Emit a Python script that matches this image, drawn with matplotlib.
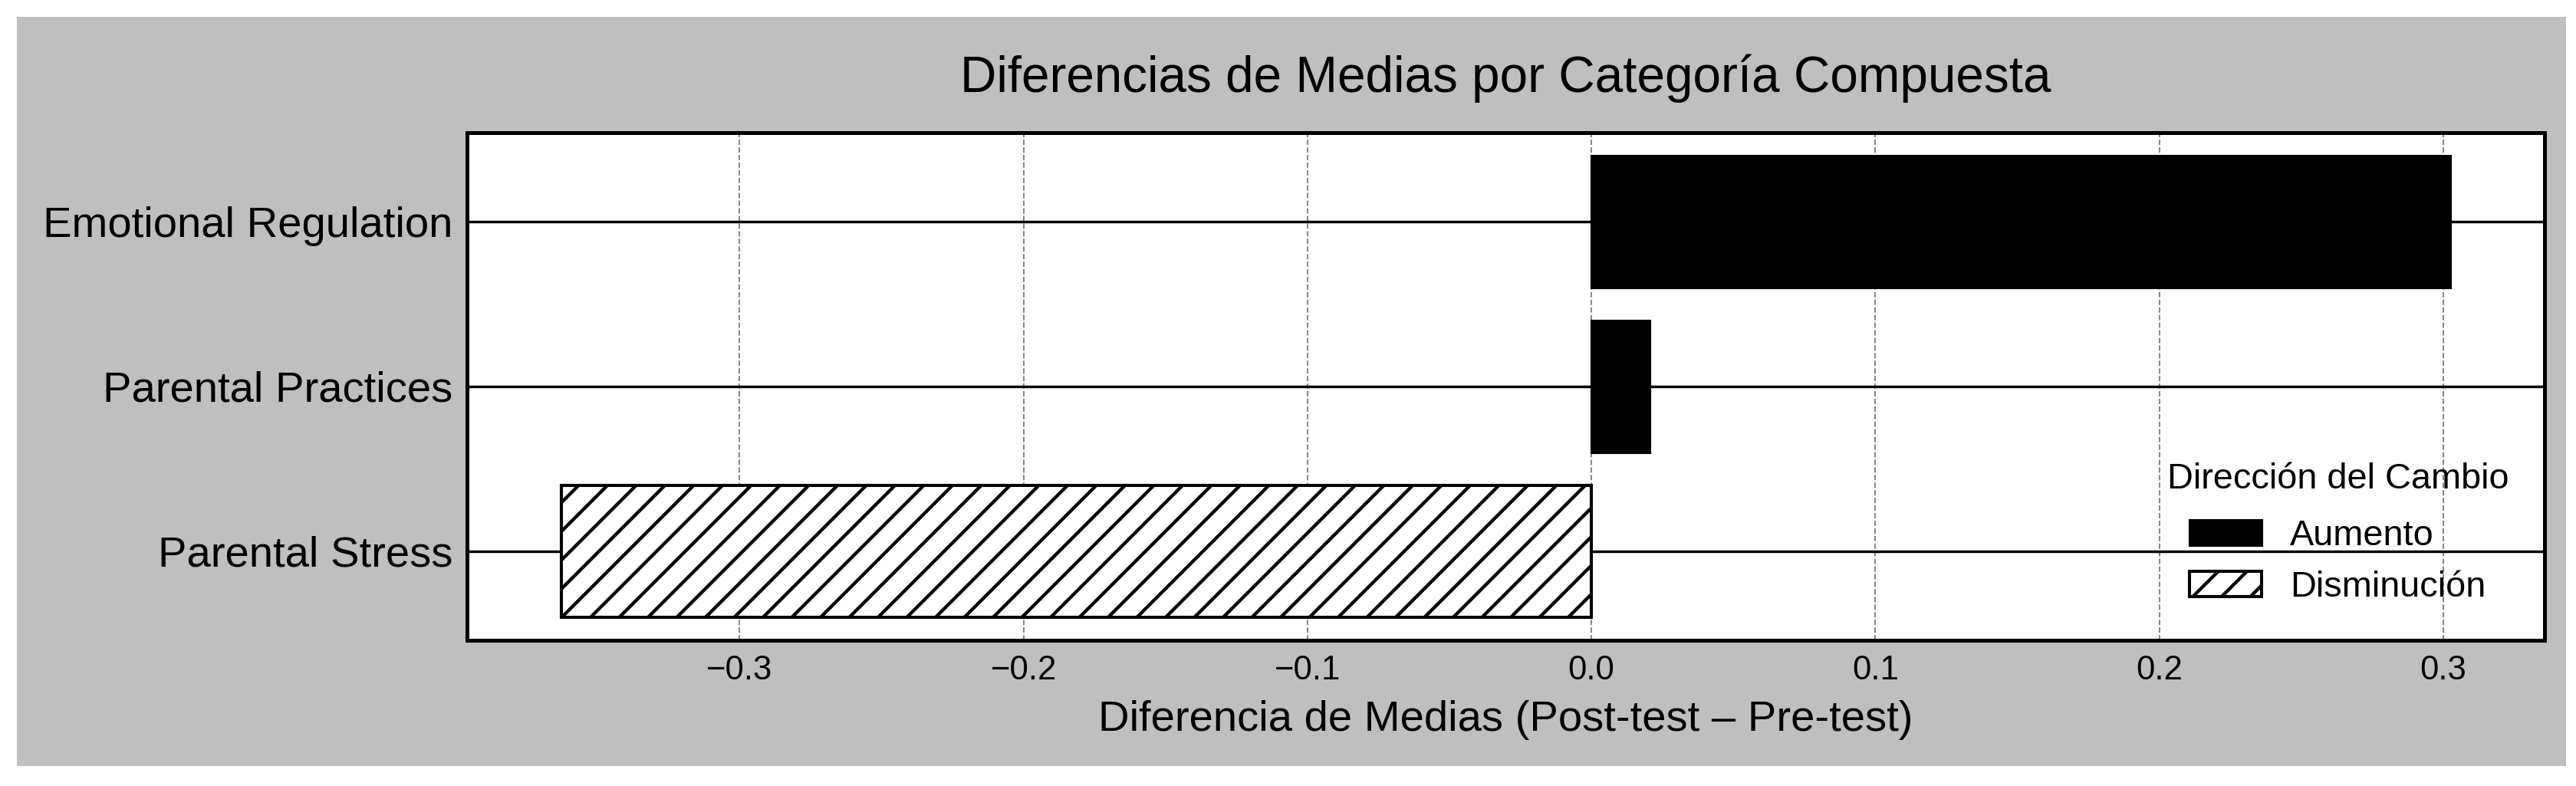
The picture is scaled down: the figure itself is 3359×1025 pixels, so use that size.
import matplotlib
matplotlib.use("Agg")
import matplotlib.pyplot as plt
from matplotlib.patches import Patch, Rectangle

# datos: diferencia de medias (post - pre) por categoria compuesta
categorias = ["Emotional Regulation", "Parental Practices", "Parental Stress"]
diferencias = [0.3024, 0.0206, -0.3627]
leyenda_labels = ["Aumento", "Disminución"]

plt.rcParams["font.family"] = ["Liberation Sans", "DejaVu Sans"]
plt.rcParams["hatch.linewidth"] = 1.4

DPI = 225
fig = plt.figure(figsize=(3359 / DPI, 1025 / DPI), dpi=DPI, facecolor="white")
# fondo gris de la figura (con un borde blanco alrededor)
fig.patches.append(Rectangle((0.00655, 0.0254), 0.98958, 0.9531,
                             transform=fig.transFigure, facecolor="#bfbfbf",
                             edgecolor="none", zorder=-10))

ax = fig.add_axes([0.1813, 0.1854, 0.8065, 0.6458])
ax.set_facecolor("white")

y = list(range(len(categorias)))
for yi, d in zip(y, diferencias):
    if d >= 0:
        ax.barh(yi, d, height=0.8, color="black", edgecolor="black", zorder=3)
    else:
        ax.barh(yi, d, height=0.8, color="white", edgecolor="black",
                hatch="//", linewidth=1.3, zorder=3)

ax.set_yticks(y)
ax.set_yticklabels(categorias, fontsize=18)
ax.invert_yaxis()
ax.tick_params(axis="both", length=0)
ax.tick_params(axis="y", pad=6)
ax.tick_params(axis="x", labelsize=14, pad=6)

ax.set_axisbelow(True)
ax.grid(axis="x", linestyle="--", linewidth=0.6, color="gray")
ax.grid(axis="y", linestyle="-", linewidth=1.1, color="black")
for s in ax.spines.values():
    s.set_linewidth(1.6)
    s.set_color("black")

ax.set_xlabel("Diferencia de Medias (Post-test – Pre-test)", fontsize=18, labelpad=6)
ax.set_title("Diferencias de Medias por Categoría Compuesta", fontsize=21, pad=17)

handles = [Patch(facecolor="black", edgecolor="black"),
           Patch(facecolor="white", edgecolor="black", hatch="//", linewidth=1.3)]
leg = ax.legend(handles, leyenda_labels, title="Dirección del Cambio", loc="lower right",
                frameon=False, fontsize=15, title_fontsize=15, borderaxespad=0.6)
leg._legend_box.sep = 9.5  # un poco mas de espacio bajo el titulo

fig.savefig("out.png", dpi=DPI, facecolor="white")
